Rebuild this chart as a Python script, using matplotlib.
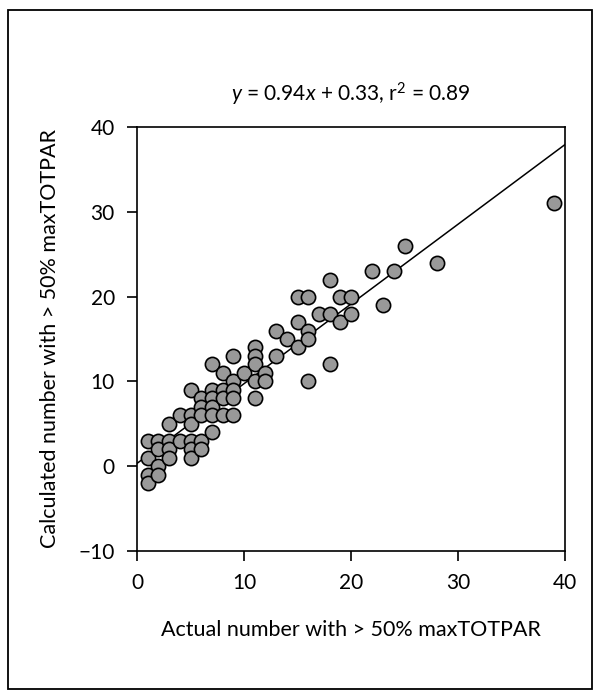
import numpy as np
import matplotlib
matplotlib.use("Agg")
import matplotlib.pyplot as plt
from matplotlib.patches import Rectangle

plt.rcParams["font.family"] = ["Lato", "DejaVu Sans"]
plt.rcParams["mathtext.fontset"] = "custom"
plt.rcParams["mathtext.rm"] = "Lato"
plt.rcParams["mathtext.it"] = "Lato:italic"

# actual vs calculated number with > 50% maxTOTPAR
actual = [1, 1, 1, 1, 2, 2, 2, 2, 3, 3, 3, 3, 4, 4, 5, 5, 5, 5, 5, 5,
          6, 6, 6, 6, 6, 7, 7, 7, 7, 7, 7, 8, 8, 8, 8, 9, 9, 9, 9, 9,
          10, 11, 11, 11, 11, 11, 12, 12, 13, 13, 14, 15, 15, 15,
          16, 16, 16, 16, 17, 18, 18, 18, 19, 19, 20, 20,
          22, 23, 24, 25, 28, 39]
calculated = [3, 1, -1, -2, 3, 2, 0, -1, 5, 3, 2, 1, 6, 3, 9, 6, 5, 3, 2, 1,
              8, 7, 6, 3, 2, 12, 9, 8, 7, 6, 4, 11, 9, 8, 6, 13, 10, 9, 8, 6,
              11, 14, 13, 12, 10, 8, 11, 10, 16, 13, 15, 20, 17, 14,
              20, 16, 15, 10, 18, 22, 18, 12, 20, 17, 20, 18,
              23, 19, 23, 26, 24, 31]

slope = 0.94
intercept = 0.33
r2 = 0.89

xticks = [0, 10, 20, 30, 40]
yticks = [-10, 0, 10, 20, 30, 40]

fig = plt.figure(figsize=(6.01, 6.99), dpi=100)
ax = fig.add_axes([137 / 601, 1 - 551 / 699, 428 / 601, 424 / 699])

ax.scatter(actual, calculated, s=105, c="#999999", edgecolors="black",
           linewidths=1.2, zorder=3)

xl = np.array([0, 40])
ax.plot(xl, slope * xl + intercept, color="black", lw=1.1, zorder=2)

ax.set_xlim(0, 40)
ax.set_ylim(-10, 40)
ax.set_xticks(xticks)
ax.set_yticks(yticks)
ax.tick_params(direction="out", length=7, width=1.2, labelsize=15, pad=9)
for s in ax.spines.values():
    s.set_linewidth(1.2)

ax.set_xlabel("Actual number with > 50% maxTOTPAR", fontsize=15.5, labelpad=19)
ax.set_ylabel("Calculated number with > 50% maxTOTPAR", fontsize=15.5, labelpad=13)
ax.set_title(r"$\mathit{y}$ = 0.94$\mathit{x}$ + 0.33, r$^{2}$ = 0.89",
             fontsize=15, pad=18)

# outer frame
fig.patches.append(Rectangle((8 / 601, 10 / 699), 584 / 601, 679 / 699,
                             transform=fig.transFigure, fill=False,
                             edgecolor="black", lw=1.3))

fig.savefig("out.png", dpi=100)
